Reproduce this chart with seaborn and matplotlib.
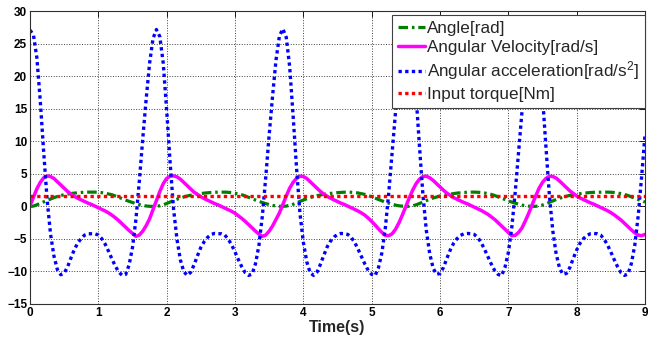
import numpy as np
import pandas as pd
import seaborn as sns
import matplotlib.pyplot as plt

# Configuration:
OUT_FILE = "out.png"

# sampling grid of the simulation output (s)
time_s = np.round(np.arange(0, 9.0001, 0.05), 2)

# values, one row per 0.5 s
angle_rad = [
    0.0, 0.05, 0.25, 0.48, 0.7, 0.92, 1.15, 1.35, 1.53, 1.68,
    1.8, 1.9, 1.98, 2.05, 2.1, 2.15, 2.18, 2.2, 2.2, 2.2,
    2.17, 2.12, 2.03, 1.92, 1.8, 1.6, 1.4, 1.2, 0.98, 0.78,
    0.6, 0.43, 0.28, 0.16, 0.07, 0.02, 0.0, 0.03, 0.1, 0.25,
    0.45, 0.68, 0.9, 1.1, 1.3, 1.45, 1.6, 1.72, 1.82, 1.9,
    1.98, 2.05, 2.1, 2.15, 2.18, 2.2, 2.2, 2.2, 2.17, 2.12,
    2.03, 1.92, 1.8, 1.6, 1.4, 1.2, 0.98, 0.78, 0.6, 0.43,
    0.28, 0.16, 0.07, 0.02, 0.01, 0.06, 0.16, 0.33, 0.54, 0.77,
    0.98, 1.18, 1.36, 1.51, 1.65, 1.76, 1.85, 1.93, 2.01, 2.07,
    2.12, 2.16, 2.19, 2.2, 2.18, 2.14, 2.07, 1.96, 1.85, 1.68,
    1.48, 1.28, 1.07, 0.86, 0.67, 0.5, 0.34, 0.2, 0.1, 0.04,
    0.01, 0.03, 0.1, 0.25, 0.45, 0.68, 0.9, 1.1, 1.3, 1.45,
    1.6, 1.72, 1.82, 1.9, 1.98, 2.05, 2.1, 2.15, 2.18, 2.2,
    2.2, 2.18, 2.14, 2.07, 1.96, 1.85, 1.68, 1.48, 1.28, 1.07,
    0.86, 0.67, 0.5, 0.34, 0.2, 0.1, 0.04, 0.01, 0.02, 0.08,
    0.22, 0.41, 0.63, 0.86, 1.06, 1.26, 1.42, 1.57, 1.7, 1.8,
    1.88, 1.96, 2.04, 2.09, 2.14, 2.17, 2.18, 2.2, 2.2, 2.2,
    2.18, 2.14, 2.07, 1.96, 1.85, 1.68, 1.48, 1.28, 1.07, 0.86,
    0.67,
]

velocity = [
    0.1, 1.4, 2.7, 3.7, 4.4, 4.7, 4.6, 4.3, 3.8, 3.3,
    2.8, 2.3, 1.9, 1.55, 1.25, 1.0, 0.75, 0.5, 0.3, 0.05,
    -0.2, -0.45, -0.7, -1.0, -1.35, -1.75, -2.2, -2.7, -3.2, -3.7,
    -4.15, -4.6, -4.4, -3.8, -2.95, -1.9, -0.5, 0.9, 2.3, 3.5,
    4.3, 4.65, 4.7, 4.55, 4.2, 3.7, 3.2, 2.7, 2.2, 1.85,
    1.5, 1.2, 0.95, 0.7, 0.45, 0.25, 0.0, -0.25, -0.5, -0.75,
    -1.05, -1.45, -1.85, -2.3, -2.8, -3.3, -3.8, -4.25, -4.6, -4.4,
    -3.8, -3.0, -2.0, -1.0, 0.3, 1.6, 2.8, 3.7, 4.3, 4.65,
    4.6, 4.3, 3.8, 3.3, 2.8, 2.3, 1.9, 1.55, 1.25, 1.0,
    0.75, 0.5, 0.3, 0.05, -0.2, -0.45, -0.7, -1.0, -1.35, -1.8,
    -2.3, -2.85, -3.45, -4.0, -4.45, -4.5, -4.2, -3.5, -2.5, -1.3,
    0.0, 1.3, 2.5, 3.5, 4.2, 4.6, 4.65, 4.4, 4.0, 3.5,
    3.0, 2.5, 2.05, 1.7, 1.35, 1.1, 0.85, 0.6, 0.4, 0.15,
    -0.1, -0.35, -0.6, -0.9, -1.2, -1.6, -2.0, -2.5, -3.0, -3.5,
    -4.0, -4.5, -4.45, -4.0, -3.3, -2.2, -1.0, 0.3, 1.6, 2.8,
    3.7, 4.3, 4.65, 4.6, 4.35, 3.9, 3.4, 2.9, 2.4, 2.0,
    1.6, 1.3, 1.05, 0.8, 0.55, 0.35, 0.1, -0.15, -0.4, -0.65,
    -0.95, -1.3, -1.7, -2.1, -2.6, -3.1, -3.6, -4.05, -4.4, -4.5,
    -4.3,
]

acceleration = [
    27.1, 26.4, 22.9, 16.3, 8.4, 1.1, -4.2, -7.6, -9.7, -10.5,
    -10.25, -9.3, -7.9, -6.6, -5.6, -4.9, -4.4, -4.2, -4.2, -4.2,
    -4.4, -4.95, -5.8, -6.9, -8.1, -9.2, -10.1, -10.6, -10.45, -9.0,
    -6.3, -2.0, 3.9, 10.4, 16.5, 22.0, 25.8, 27.2, 26.1, 22.0,
    14.8, 6.8, -0.3, -5.0, -8.2, -10.0, -10.6, -10.15, -9.0, -7.6,
    -6.3, -5.4, -4.75, -4.3, -4.15, -4.2, -4.2, -4.4, -5.0, -5.9,
    -7.0, -8.2, -9.3, -10.2, -10.6, -10.4, -8.8, -6.0, -1.5, 4.5,
    11.0, 17.0, 22.5, 26.2, 27.3, 26.0, 21.5, 14.0, 6.0, -1.0,
    -5.5, -8.5, -10.2, -10.6, -10.1, -8.9, -7.5, -6.2, -5.3, -4.7,
    -4.3, -4.15, -4.2, -4.3, -4.75, -5.5, -6.55, -7.7, -8.85, -9.85,
    -10.45, -10.65, -9.4, -7.1, -3.3, 2.1, 8.4, 14.6, 20.3, 24.7,
    26.9, 26.5, 23.3, 17.0, 9.2, 1.8, -3.7, -7.3, -9.5, -10.45,
    -10.3, -9.4, -8.0, -6.7, -5.65, -4.95, -4.45, -4.2, -4.15, -4.2,
    -4.3, -4.75, -5.5, -6.55, -7.7, -8.85, -9.85, -10.45, -10.65, -9.4,
    -7.1, -3.3, 2.1, 8.4, 14.6, 20.3, 24.7, 26.9, 26.5, 23.3,
    17.0, 9.2, 1.8, -3.7, -7.3, -9.5, -10.45, -10.3, -9.4, -8.0,
    -6.7, -5.65, -4.95, -4.45, -4.2, -4.15, -4.2, -4.4, -5.0, -5.9,
    -7.0, -8.2, -9.3, -10.2, -10.6, -10.4, -8.8, -6.0, -1.5, 4.5,
    11.0,
]

# constant input torque, start and end of the run
torque_time = [0.0, 9.0]
torque_nm = [1.6, 1.6]

x_ticks = list(range(0, 10))
y_ticks = list(range(-15, 31, 5))

labels = [
    "Angle[rad]",
    "Angular Velocity[rad/s]",
    "Angular acceleration[rad/s$^2$]",
    "Input torque[Nm]",
]


def make_plot() -> None:
    sns.set_style("white")
    plt.rcParams["font.family"] = ["Liberation Sans", "DejaVu Sans"]
    plt.rcParams["mathtext.default"] = "regular"

    df = pd.DataFrame({
        "time": time_s,
        "angle": angle_rad,
        "velocity": velocity,
        "acceleration": acceleration,
    })

    fig = plt.figure(figsize=(6.48, 3.39), dpi=100)
    ax = fig.add_axes([30 / 648, 1 - 304 / 339, 615 / 648, 292.7 / 339])

    sns.lineplot(data=df, x="time", y="angle", ax=ax, color="#008000",
                 lw=2.3, linestyle=(0, (3, 1.2, 0.8, 1.2)), label=labels[0])
    sns.lineplot(data=df, x="time", y="velocity", ax=ax, color="#FF00FF",
                 lw=2.5, linestyle="-", label=labels[1])
    sns.lineplot(data=df, x="time", y="acceleration", ax=ax, color="#0000FF",
                 lw=2.4, linestyle=(0, (1, 1)), label=labels[2])
    sns.lineplot(x=torque_time, y=torque_nm, ax=ax, color="#FF0000",
                 lw=2.4, linestyle=(0, (1, 1)), label=labels[3])

    ax.set_xlim(0, 9)
    ax.set_ylim(-15, 30)
    ax.set_xticks(x_ticks)
    ax.set_yticks(y_ticks)
    ax.grid(True, ls=":", color="#404040", lw=0.7)
    ax.tick_params(direction="in", length=4, width=0.6, top=True, right=True,
                   labelsize=8.5, pad=2, colors="black")
    plt.setp(ax.get_xticklabels() + ax.get_yticklabels(), fontweight="bold")
    for sp in ax.spines.values():
        sp.set_color("#303030")
        sp.set_linewidth(0.8)

    ax.set_xlabel("Time(s)", fontsize=11.5, fontweight="bold", labelpad=1)
    ax.set_ylabel("")

    leg = ax.legend(loc="upper right", bbox_to_anchor=(1.0, 1 - 3.7 / 292.7),
                    borderaxespad=0, fontsize=12.3, handlelength=1.6,
                    handletextpad=0.1, borderpad=0.35, labelspacing=0.25,
                    fancybox=False, framealpha=1)
    leg.get_frame().set_edgecolor("#404040")
    leg.get_frame().set_linewidth(0.8)

    fig.savefig(OUT_FILE, dpi=100)


if __name__ == "__main__":
    make_plot()
